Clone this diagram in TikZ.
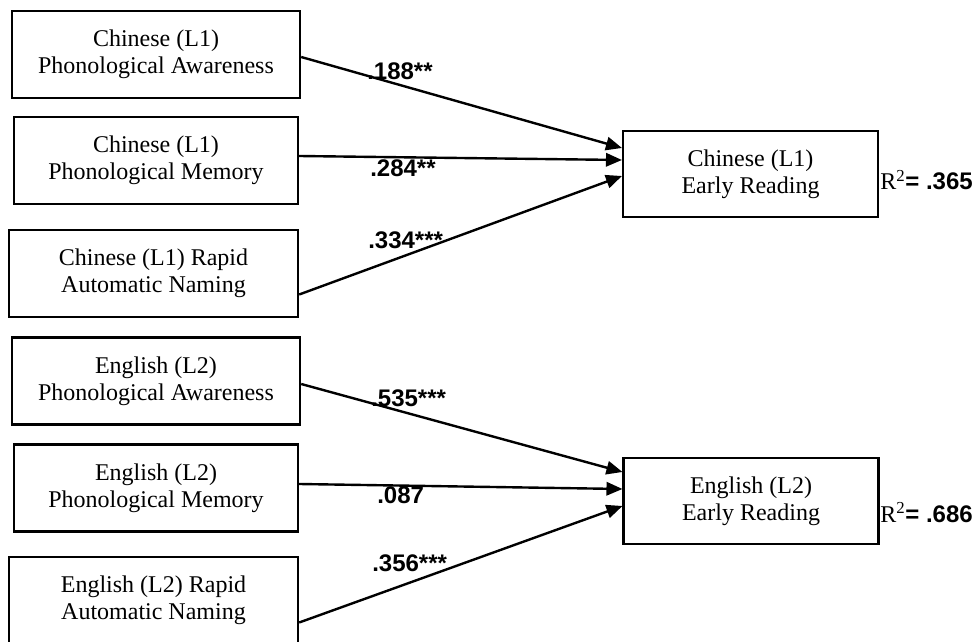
\documentclass[tikz,border=0pt]{standalone}
\usepackage{fontspec}
\setmainfont{Liberation Serif}
\setsansfont{Liberation Sans}
\usetikzlibrary{arrows.meta,calc}

\begin{document}
\begin{tikzpicture}[
                x=0.75pt, y=-0.75pt,
                >={Triangle[length=12pt, width=10pt]},
                every node/.style={align=center},
                predbox/.style={rectangle, draw=black, line width=1.8pt, fill=white,
                        inner sep=2pt, minimum height=65pt,
                        font={\fontsize{18pt}{20.5pt}\selectfont}},
                outbox/.style={rectangle, draw=black, line width=1.8pt, fill=white,
                        inner sep=2pt, minimum height=64.5pt, minimum width=191pt,
                        font={\fontsize{18pt}{20.5pt}\selectfont}},
                coef/.style={anchor=base west, inner sep=0pt,
                        font={\sffamily\bfseries\fontsize{18pt}{20pt}\selectfont}},
                rsq/.style={anchor=base west, inner sep=0pt,
                        font={\fontsize{18pt}{20pt}\selectfont}},
                arr/.style={->, line width=1.8pt, draw=black},
            ]
            \useasboundingbox (0,0) rectangle (976,642);

            % Chinese (L1)
            \node[predbox, minimum width=216pt] (cpa) at (156,54.5) {Chinese (L1)\\Phonological Awareness};
            \node[predbox, minimum width=213pt] (cpm) at (156,160.5) {Chinese (L1)\\Phonological Memory};
            \node[predbox, minimum width=216.75pt] (cran) at (153.5,273.5) {Chinese (L1) Rapid\\Automatic Naming};
            \node[outbox] (cer) at (750.5,174) {Chinese (L1)\\Early Reading};
            \node[rsq] (crsq) at (880,190) {R\textsuperscript{2}{\sffamily\bfseries= .365}};

            \draw[arr] ($(cpa.east)+(0,2.5)$) -- ($(cer.west)+(0,-26)$);
            \draw[arr] ($(cpm.east)+(0,-4.5)$) -- ($(cer.west)+(0,-14)$);
            \draw[arr] ($(cran.east)+(0,21)$) -- ($(cer.west)+(0,2)$);
            \node[coef] (c1) at (367,80) {.188**};
            \node[coef] (c2) at (370,176) {.284**};
            \node[coef] (c3) at (368,248) {.334***};

            % English (L2)
            \node[predbox, minimum width=216pt] (epa) at (156,381) {English (L2)\\Phonological Awareness};
            \node[predbox, minimum width=213pt] (epm) at (156,488) {English (L2)\\Phonological Memory};
            \node[predbox, minimum width=216.75pt] (eran) at (153.5,600.5) {English (L2) Rapid\\Automatic Naming};
            \node[outbox] (eer) at (751,501) {English (L2)\\Early Reading};
            \node[rsq] (ersq) at (880,522) {R\textsuperscript{2}{\sffamily\bfseries= .686}};

            \draw[arr] ($(epa.east)+(0,3)$) -- ($(eer.west)+(0,-29)$);
            \draw[arr] ($(epm.east)+(0,-4)$) -- ($(eer.west)+(0,-12)$);
            \draw[arr] ($(eran.east)+(0,22)$) -- ($(eer.west)+(0,5)$);
            \node[coef] (e1) at (371,406) {.535***};
            \node[coef] (e2) at (377,503) {.087};
            \node[coef] (e3) at (372,571) {.356***};

        \end{tikzpicture}
\end{document}
